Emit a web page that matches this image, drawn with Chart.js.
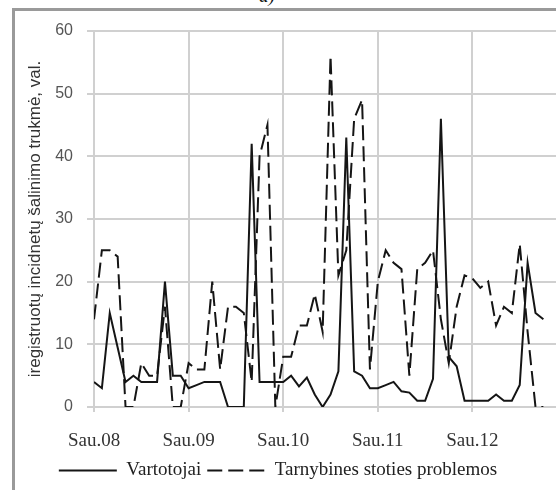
<!DOCTYPE html>
<html lang="lt">
<head>
<meta charset="utf-8">
<title>Incidentų šalinimo trukmė</title>
<script src="https://cdn.jsdelivr.net/npm/chart.js@4.4.1/dist/chart.umd.min.js"></script>
<style>
    html, body { margin: 0; padding: 0; background: #fff; }
    #wrap { position: relative; width: 556px; height: 490px; overflow: hidden; }
    #frame {
        position: absolute; left: 12px; top: 8px; width: 600px; height: 600px;
        border-left: 3px solid #9a9a9a; border-top: 3px solid #9a9a9a;
    }
    #caption { position: absolute; left: 259px; top: -15px; font: italic 19px 'Liberation Serif', serif; color: #111; }
    canvas { position: absolute; left: 0; top: 0; }
</style>
</head>
<body>
<div id="wrap">
    <div id="frame"></div>
    <div id="caption">a)</div>
    <canvas id="incidentChart" width="556" height="490"></canvas>
</div>
<script>
/**
 * Incidentų šalinimo trukmė pagal mėnesius (2008 sausis - 2012 spalis)
 */

// Mėnesių indeksai: 0 = Sau.08, 12 = Sau.09 ...
const xTickLabels = ['Sau.08', 'Sau.09', 'Sau.10', 'Sau.11', 'Sau.12'];
const yTicks = [0, 10, 20, 30, 40, 50, 60];

const vartotojai = [
    4, 3, 15, 9.5, 4, 5, 4, 4, 4, 20, 5, 5,
    3, 3.5, 4, 4, 4, 0, 0, 0, 42, 4, 4, 4,
    4, 5, 3.3, 4.7, 2, 0, 2, 5.7, 43, 5.7, 5, 3,
    3, 3.5, 4, 2.5, 2.3, 1, 1, 4.5, 46, 8, 6.5, 1,
    1, 1, 1, 2, 1, 1, 3.5, 23, 15, 14
];

const stotiesProblemos = [
    14, 25, 25, 24, 0, 0, 7, 5, 5, 16, 0, 0,
    7, 6, 6, 20, 6, 16, 16, 15, 4, 40, 45, 0,
    8, 8, 13, 13, 18, 12, 56, 21, 25, 46, 49, 6,
    20, 25, 23, 22, 5, 22, 23, 25, 14, 7, 16, 21,
    20.5, 19, 20, 13, 16, 15, 26, 12, 0, 0
];

const gridColor = '#d0d0d0';

/**
 * Eilutės duomenis paverčia {x, y} taškais
 */
function toPoints(values) {
    return values.map((v, i) => ({ x: i, y: v }));
}

/**
 * Legendos linijoms perduoda duomenų rinkinio brūkšniavimą
 */
function legendLabels(chart) {
    const items = Chart.defaults.plugins.legend.labels.generateLabels(chart);
    return items.map((item, i) => {
        const ds = chart.data.datasets[i];
        item.lineDash = ds.borderDash || [];
        item.lineWidth = ds.borderWidth;
        item.strokeStyle = ds.borderColor;
        return item;
    });
}

/**
 * Sukuria linijinę diagramą
 */
function createIncidentChart() {
    const ctx = document.getElementById('incidentChart');
    if (!ctx) return;

    window.incidentChart = new Chart(ctx, {
        type: 'line',
        data: {
            datasets: [
                {
                    label: 'Vartotojai',
                    data: toPoints(vartotojai),
                    borderColor: '#151515',
                    backgroundColor: '#151515',
                    borderWidth: 2,
                    pointRadius: 0,
                    tension: 0
                },
                {
                    label: 'Tarnybines stoties problemos',
                    data: toPoints(stotiesProblemos),
                    borderColor: '#151515',
                    backgroundColor: '#151515',
                    borderWidth: 2,
                    borderDash: [15, 6],
                    pointRadius: 0,
                    tension: 0
                }
            ]
        },
        options: {
            responsive: false,
            animation: false,
            layout: {
                padding: { left: 0, top: 31, right: 0, bottom: 0 }
            },
            scales: {
                x: {
                    type: 'linear',
                    min: 0,
                    max: 58.6,
                    afterFit: function(scale) { scale.height = 48; },
                    grid: { color: gridColor, lineWidth: 2, tickLength: 5 },
                    border: { color: gridColor, width: 2 },
                    ticks: {
                        stepSize: 12,
                        includeBounds: false,
                        padding: 18,
                        maxRotation: 0,
                        color: '#333',
                        font: { family: "'Liberation Serif', serif", size: 19 },
                        callback: function(value) {
                            return value % 12 === 0 ? xTickLabels[value / 12] : '';
                        }
                    }
                },
                y: {
                    min: yTicks[0],
                    max: yTicks[yTicks.length - 1],
                    afterFit: function(scale) { scale.width = 94; },
                    grid: { color: gridColor, lineWidth: 2, tickLength: 7 },
                    border: { color: gridColor, width: 2 },
                    ticks: {
                        stepSize: 10,
                        padding: 14,
                        color: '#555',
                        font: { family: "'Liberation Sans', sans-serif", size: 16 }
                    },
                    title: {
                        display: true,
                        text: 'iregistruotų incidnetų šalinimo trukmė, val.',
                        color: '#333',
                        font: { family: "'Liberation Sans', sans-serif", size: 17 },
                        padding: { top: 25, bottom: 0 }
                    }
                }
            },
            plugins: {
                legend: {
                    position: 'bottom',
                    labels: {
                        usePointStyle: true,
                        pointStyle: 'line',
                        pointStyleWidth: 58,
                        padding: 6,
                        color: '#222',
                        font: { family: "'Liberation Serif', serif", size: 19 },
                        generateLabels: legendLabels
                    }
                },
                tooltip: { enabled: false }
            }
        }
    });
}

document.addEventListener('DOMContentLoaded', function() {
    createIncidentChart();
});
</script>
</body>
</html>
